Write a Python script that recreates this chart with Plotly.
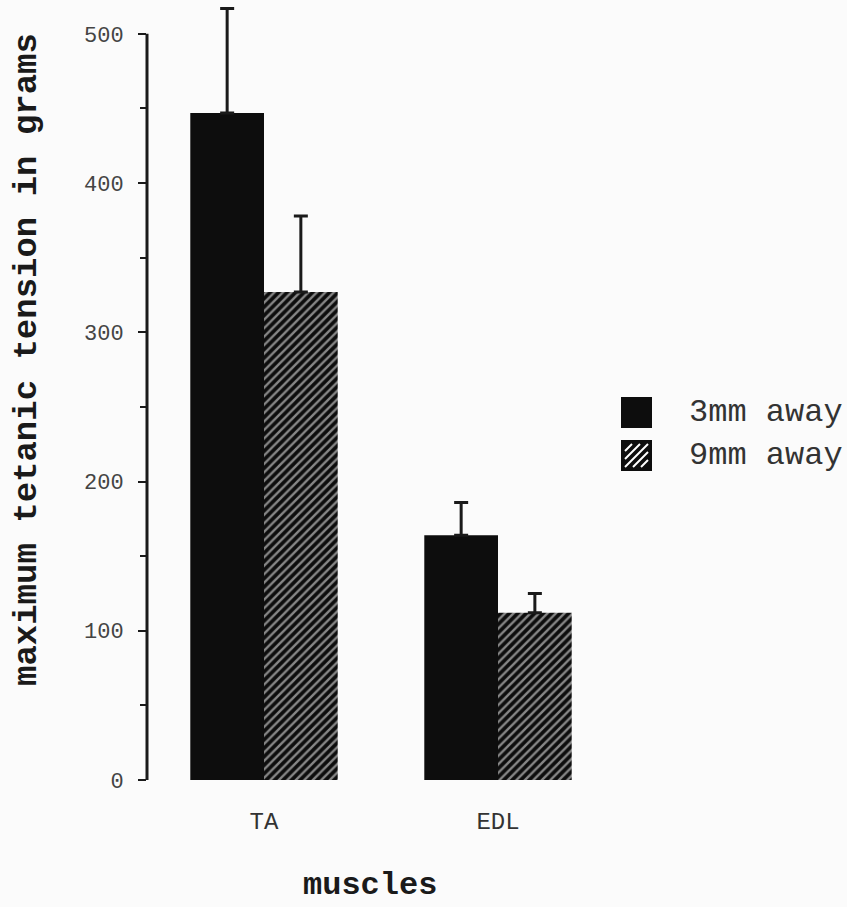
import plotly.graph_objects as go

# Muscle groups and maximum tetanic tension (grams), mean with upper error
muscles = ["TA", "EDL"]
tension_3mm = [447, 164]
err_3mm = [70, 22]
tension_9mm = [327, 112]
err_9mm = [51, 13]
series_names = ["3mm away", "9mm away"]
y_ticks = [0, 100, 200, 300, 400, 500]

W, H = 847, 907
L, R, T, B = 147, 232, 4, 127
plot_w = W - L - R
plot_h = H - T - B

MONO = "Courier New, Liberation Mono, monospace"
INK = "#1a1a1a"
BAR = "#0d0d0d"
STRIPE = "#ffffff"


def px_to_paper(px, py):
    return (px - L) / plot_w, (H - B - py) / plot_h


fig = go.Figure()

fig.add_trace(go.Bar(
    x=muscles, y=tension_3mm, name=series_names[0],
    marker=dict(color=BAR, line=dict(width=0)),
    error_y=dict(type="data", array=err_3mm, arrayminus=[0, 0], symmetric=False,
                 color=INK, thickness=3, width=7),
    showlegend=False,
))
fig.add_trace(go.Bar(
    x=muscles, y=tension_9mm, name=series_names[1],
    marker=dict(color=BAR, line=dict(width=0),
                pattern=dict(shape="/", fgcolor=STRIPE, bgcolor=BAR,
                             size=6, solidity=0.4, fillmode="overlay")),
    error_y=dict(type="data", array=err_9mm, arrayminus=[0, 0], symmetric=False,
                 color=INK, thickness=3, width=7),
    showlegend=False,
))

shapes = []
# vertical value axis from 0 to 500
shapes.append(dict(type="line", xref="paper", yref="y", x0=0, x1=0, y0=0, y1=500,
                   line=dict(color=INK, width=3)))

# legend swatches
sw = 31
sw_x = 621
sw_y = [397, 440]
for yy in sw_y:
    x0p, y0p = px_to_paper(sw_x, yy + sw)
    x1p, y1p = px_to_paper(sw_x + sw, yy)
    shapes.append(dict(type="rect", xref="paper", yref="paper", x0=x0p, x1=x1p, y0=y0p, y1=y1p,
                       fillcolor=BAR, line=dict(width=0)))

# white diagonal hatching inside the second swatch
inset = 4
for c in [-16, -8, 0, 8, 16]:
    # stripe along u + v = sw + c (u right, v down from swatch top), clipped with an inset
    u_start = max(inset, c + inset)
    u_end = min(sw - inset, sw + c - inset)
    if u_end - u_start < 3:
        continue
    ax, ay = px_to_paper(sw_x + u_start, sw_y[1] + (sw + c - u_start))
    bx, by = px_to_paper(sw_x + u_end, sw_y[1] + (sw + c - u_end))
    shapes.append(dict(type="line", xref="paper", yref="paper", x0=ax, y0=ay, x1=bx, y1=by,
                       line=dict(color=STRIPE, width=2)))

annotations = []
for name, yy in zip(series_names, sw_y):
    ax, ay = px_to_paper(687, yy + sw / 2)
    annotations.append(dict(xref="paper", yref="paper", x=ax, y=ay, text=name,
                            showarrow=False, xanchor="left", yanchor="middle",
                            font=dict(family=MONO, size=32, color="#333333")))

ax, ay = px_to_paper(370, 885)
annotations.append(dict(xref="paper", yref="paper", x=ax, y=ay, text="<b>muscles</b>",
                        showarrow=False, xanchor="center", yanchor="middle",
                        font=dict(family=MONO, size=32, color=INK)))
ax, ay = px_to_paper(27, 360)
annotations.append(dict(xref="paper", yref="paper", x=ax, y=ay,
                        text="<b>maximum tetanic tension in grams</b>",
                        showarrow=False, textangle=-90, xanchor="center", yanchor="middle",
                        font=dict(family=MONO, size=34, color=INK)))

fig.update_layout(
    width=W, height=H,
    margin=dict(l=L, r=R, t=T, b=B, pad=0),
    paper_bgcolor="#fbfbfb", plot_bgcolor="#fbfbfb",
    barmode="group", bargap=0.37, bargroupgap=0,
    shapes=shapes, annotations=annotations,
    xaxis=dict(range=[-0.5, 1.5], showline=False, showgrid=False, zeroline=False,
               ticks="", ticklabelstandoff=24,
               tickfont=dict(family=MONO, size=24, color="#333333")),
    yaxis=dict(range=[0, 520], showline=False, showgrid=False, zeroline=False,
               tickmode="array", tickvals=y_ticks, ticks="outside", ticklen=8,
               tickwidth=2, tickcolor=INK, ticklabelstandoff=10,
               tickfont=dict(family=MONO, size=22, color="#444444"),
               minor=dict(dtick=50, tick0=0, ticks="outside", ticklen=6,
                          tickwidth=2, tickcolor=INK, showgrid=False)),
    showlegend=False,
)

fig.write_html("out.html")
